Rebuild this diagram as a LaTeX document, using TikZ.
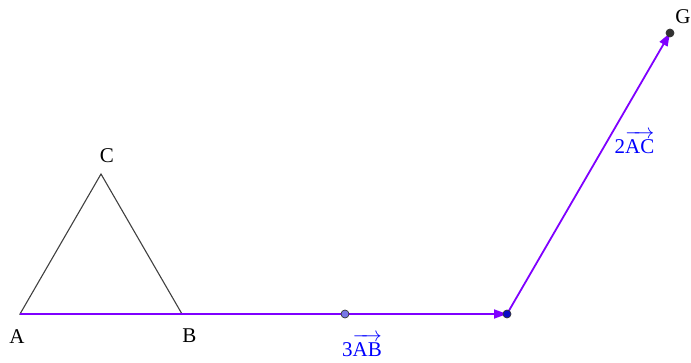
\documentclass[tikz,border=0pt]{standalone}
\usepackage{fontspec}
\setmainfont{Liberation Serif}
\usepackage{xcolor}
\usepackage{tikz}
\usetikzlibrary{arrows.meta,positioning}
\definecolor{vecpurple}{RGB}{127,0,255}
\definecolor{trigrey}{RGB}{64,64,64}
\definecolor{lblblue}{RGB}{0,0,255}
\definecolor{midfill}{RGB}{120,120,230}
\definecolor{endfill}{RGB}{10,10,200}
\definecolor{gfill}{RGB}{50,50,50}
\newcommand{\vecname}[1]{$\overrightarrow{\hbox{\rule{0pt}{16pt}#1}}$}
\tikzset{
  side/.style={draw=trigrey, line width=1.1pt},
  vec/.style={draw=vecpurple, line width=1.8pt, -{Triangle[length=13pt,width=9pt]}},
  pt/.style={circle, draw=black!80, line width=0.7pt, inner sep=0pt, minimum size=8pt},
  lbl/.style={font=\fontsize{21}{24}\selectfont, inner sep=0pt},
  veclbl/.style={lbl, text=lblblue, anchor=base}
}

\begin{document}
\begin{tikzpicture}[x=1pt, y=-1pt]
  \useasboundingbox (0,0) rectangle (691,363);
  % points of the triangle and the sum
  \coordinate (A) at (20,314);
  \coordinate (B) at (182,314);
  \coordinate (C) at (101,174);
  \coordinate (M) at (345,314);
  \coordinate (D) at (507,314);
  \coordinate (G) at (670,33);

  \draw[side] (A) -- (B) -- (C) -- cycle;
  \draw[vec] (A) -- (D);
  \draw[vec] (D) -- (G);

  \node[pt, fill=midfill] (m) at (M) {};
  \node[pt, fill=endfill] (d) at (D) {};
  \node[pt, fill=gfill] (g) at (G) {};

  \node[lbl] (la) at (17,336.5) {A};
  \node[lbl] (lb) at (189.5,336) {B};
  \node[lbl] (lc) at (107,156) {C};
  \node[lbl] (lg) at (683,16.5) {G};
  \node[veclbl] (lab) at (362,356) {3\vecname{AB}};
  \node[veclbl] (lac) at (634.5,153.5) {2\vecname{AC}};
\end{tikzpicture}
\end{document}
